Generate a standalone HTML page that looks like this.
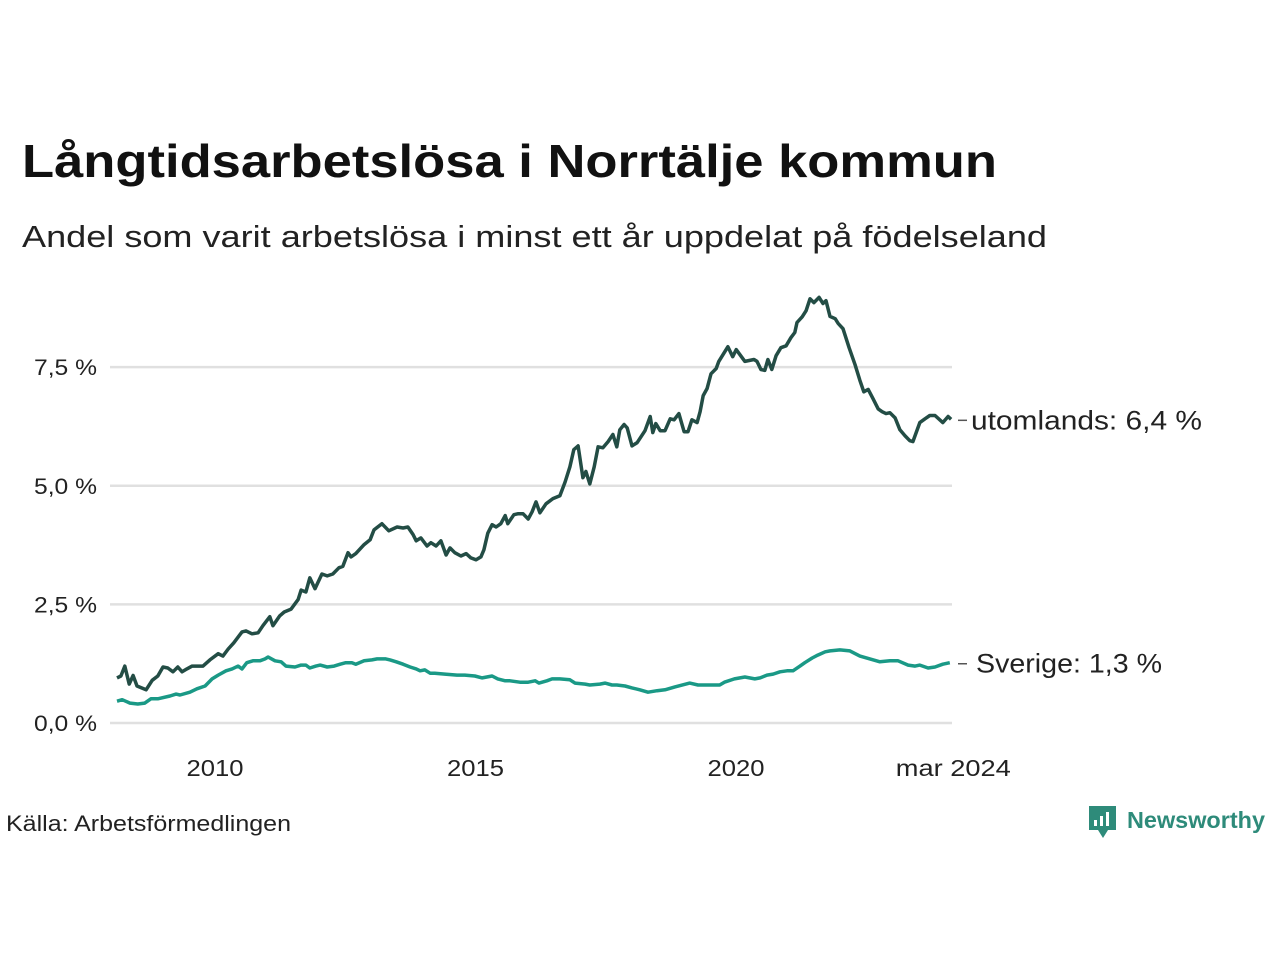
<!DOCTYPE html>
<html><head><meta charset="utf-8"><style>
body{margin:0;background:#fff;}
svg{display:block;font-family:"Liberation Sans","DejaVu Sans",sans-serif;}
</style></head><body>
<svg width="1280" height="960" viewBox="0 0 1280 960">
<text x="22" y="177" font-size="46" font-weight="bold" fill="#111" textLength="975" lengthAdjust="spacingAndGlyphs">Långtidsarbetslösa i Norrtälje kommun</text>
<text x="22" y="247" font-size="31" fill="#222" textLength="1025" lengthAdjust="spacingAndGlyphs">Andel som varit arbetslösa i minst ett år uppdelat på födelseland</text>
<g id="grid"></g>
<g id="plot"></g>
<text x="6" y="831" font-size="22" fill="#222" textLength="285" lengthAdjust="spacingAndGlyphs">Källa: Arbetsförmedlingen</text>
<g>
<path d="M1089 806h27v24h-8l-5 8-5-8h-9z" fill="#2e8b7a"/>
<rect x="1094" y="820" width="3" height="6" fill="#fff"/><rect x="1100" y="816" width="3" height="10" fill="#fff"/><rect x="1106" y="812" width="3" height="14" fill="#fff"/>
<text x="1127" y="828" font-size="23" font-weight="bold" fill="#2e8b7a" textLength="138" lengthAdjust="spacingAndGlyphs">Newsworthy</text>
</g>
</svg>
<script>
const yTicks=[0,2.5,5,7.5];
const yTickLabels=["0,0 %","2,5 %","5,0 %","7,5 %"];
const xTickYears=[2010,2015,2020,2024.17];
const xTickLabels=["2010","2015","2020","mar 2024"];
const startYear=2008.12;
const utMonths=[0,0.9,1.8,2.8,3.7,4.6,6.7,8.1,9.4,10.6,11.7,12.9,14.0,15.0,16.1,17.3,19.8,21.4,23.3,24.4,25.6,26.9,28.8,29.7,31.1,32.5,33.6,35.2,35.9,37.5,38.5,40.1,41.7,42.4,43.5,44.4,45.6,47.2,48.4,49.7,51.1,52.0,53.2,53.9,55.0,56.9,58.3,59.2,61.0,62.6,64.5,65.9,67.0,68.2,68.9,70.0,71.4,72.3,73.5,74.6,75.8,76.7,77.8,79.2,80.4,81.5,82.7,83.8,84.5,85.4,86.4,87.3,88.4,89.4,90.0,91.4,92.4,93.5,94.7,95.6,96.5,97.4,98.8,100.4,102.0,103.2,104.3,105.2,106.2,107.3,108.0,108.9,109.9,110.8,111.9,113.1,114.2,115.1,115.8,116.8,117.5,118.6,119.8,121.6,122.8,123.4,124.1,125.1,126.2,127.4,128.3,129.4,130.6,131.5,132.4,133.6,134.3,135.0,135.9,136.8,138.0,138.6,140.7,141.8,142.6,144.6,146.7,147.4,148.3,149.2,149.9,150.8,151.8,152.9,154.1,155.2,156.1,156.6,157.8,158.7,159.6,160.5,161.7,162.6,163.3,164.2,165.4,166.1,167.2,168.6,170.0,171.1,172.0,173.0,174.1,175.3,176.2,177.1,178.0,179.2,180.3,181.5,182.6,183.3,184.9,186.1,187.2,188.4,190.2,191.4,192.1];
const utValues=[0.95,0.99,1.2,0.82,1.0,0.78,0.70,0.9,0.99,1.18,1.16,1.08,1.18,1.08,1.14,1.2,1.2,1.33,1.46,1.41,1.56,1.69,1.92,1.94,1.88,1.9,2.05,2.24,2.05,2.26,2.34,2.4,2.6,2.8,2.76,3.06,2.83,3.14,3.1,3.14,3.27,3.3,3.59,3.5,3.57,3.76,3.86,4.07,4.2,4.05,4.13,4.11,4.13,3.97,3.84,3.9,3.73,3.8,3.73,3.84,3.54,3.69,3.59,3.52,3.57,3.48,3.44,3.5,3.65,4.0,4.18,4.13,4.2,4.37,4.2,4.39,4.41,4.41,4.3,4.45,4.66,4.43,4.62,4.73,4.79,5.08,5.4,5.76,5.84,5.17,5.3,5.04,5.4,5.82,5.8,5.93,6.08,5.82,6.18,6.29,6.22,5.84,5.91,6.16,6.46,6.12,6.31,6.16,6.16,6.41,6.39,6.52,6.14,6.14,6.39,6.33,6.56,6.9,7.05,7.36,7.47,7.62,7.93,7.72,7.87,7.62,7.66,7.62,7.45,7.43,7.66,7.45,7.74,7.91,7.95,8.12,8.23,8.44,8.56,8.69,8.94,8.86,8.97,8.84,8.9,8.57,8.52,8.42,8.31,7.91,7.55,7.22,6.98,7.03,6.84,6.62,6.56,6.52,6.54,6.43,6.18,6.05,5.95,5.93,6.33,6.41,6.48,6.48,6.33,6.46,6.4];
const svMonths=[0,1.2,3.0,4.8,6.4,7.8,9.4,12.2,13.6,14.5,16.8,18.4,20.3,21.9,23.3,25.1,26.5,27.9,28.8,29.9,31.3,32.9,34.1,34.8,36.4,37.8,38.9,41.0,42.4,43.5,44.4,45.8,46.8,48.4,50.0,51.4,52.7,54.1,55.0,56.9,58.7,59.9,61.9,62.9,64.3,65.9,67.5,68.9,69.8,70.9,72.1,73.2,75.5,78.3,80.1,82.4,84.1,86.4,87.7,89.4,90.5,92.8,94.7,96.3,97.2,99.0,100.2,102.0,104.3,105.5,107.8,108.9,111.2,112.4,114.0,115.1,117.0,118.6,120.4,122.3,124.4,126.2,128.5,131.9,133.8,137.0,138.8,139.9,142.2,144.6,146.9,148.1,149.7,151.1,152.7,154.3,155.7,157.3,158.4,160.1,161.4,163.1,164.2,166.5,168.8,171.1,173.4,175.7,178.0,179.9,182.2,183.8,184.9,186.8,188.4,190.2,191.8];
const svValues=[0.46,0.49,0.42,0.40,0.42,0.51,0.51,0.57,0.61,0.59,0.65,0.72,0.78,0.93,1.01,1.10,1.14,1.2,1.14,1.27,1.31,1.31,1.35,1.39,1.31,1.29,1.2,1.18,1.22,1.22,1.16,1.2,1.22,1.18,1.2,1.24,1.27,1.27,1.24,1.31,1.33,1.35,1.35,1.33,1.29,1.24,1.18,1.14,1.10,1.12,1.05,1.05,1.03,1.01,1.01,0.99,0.95,0.99,0.93,0.89,0.89,0.86,0.86,0.89,0.84,0.89,0.93,0.93,0.91,0.84,0.82,0.8,0.82,0.84,0.8,0.8,0.78,0.74,0.70,0.65,0.68,0.70,0.76,0.84,0.80,0.80,0.80,0.86,0.93,0.97,0.93,0.95,1.01,1.03,1.08,1.10,1.10,1.2,1.27,1.37,1.43,1.50,1.52,1.54,1.52,1.41,1.35,1.29,1.31,1.31,1.22,1.2,1.22,1.16,1.18,1.24,1.27];
const ns="http://www.w3.org/2000/svg";
const xm=m=>117+m*4.342;
const xy=y=>xm((y-startYear)*12);
const ys=v=>723-v*47.45;
const grid=document.getElementById('grid'),plot=document.getElementById('plot');
function mk(tag,attrs,parent){const e=document.createElementNS(ns,tag);for(const k in attrs)e.setAttribute(k,attrs[k]);parent.appendChild(e);return e;}
yTicks.forEach((t,i)=>{
 const l=mk('line',{x1:110,x2:952,y1:ys(t),y2:ys(t),stroke:'#e0e0e0','stroke-width':2.5},grid);
 
 
 const tx=mk('text',{x:97,y:ys(t)+8,'text-anchor':'end','font-size':22,fill:'#222',textLength:63,lengthAdjust:'spacingAndGlyphs'},grid);
 tx.textContent=yTickLabels[i];
 
 
});
xTickYears.forEach((y,i)=>{
 const w=xTickLabels[i].length>4?115:57;
 const tx=mk('text',{x:xy(y),y:776,'text-anchor':'middle','font-size':23,fill:'#222',textLength:w,lengthAdjust:'spacingAndGlyphs'},grid);
 tx.textContent=xTickLabels[i];
 
 
});
function line(ms,vs,color,name){
 const d=ms.map((m,i)=>(i?'L':'M')+xm(m).toFixed(1)+' '+ys(vs[i]).toFixed(1)).join(' ');
 const p=mk('path',{d:d,fill:'none',stroke:color,'stroke-width':3.5,'stroke-linejoin':'round'},plot);
 
 
 return p;
}
line(svMonths,svValues,'#1a9986','line-sverige');
line(utMonths,utValues,'#234d45','line-utomlands');
function lab(v,text,name,xOff,w){
 const y=ys(v);
 mk('line',{x1:958,x2:967,y1:y+1,y2:y+1,stroke:'#555','stroke-width':1.5},plot);
 const t=mk('text',{x:xOff,y:y+10,'font-size':27,fill:'#222',textLength:w,lengthAdjust:'spacingAndGlyphs'},plot);
 t.textContent=text;
 
 
}
lab(utValues[utValues.length-1],'utomlands: 6,4 %','label-utomlands',971,231);
lab(svValues[svValues.length-1],'Sverige: 1,3 %','label-sverige',976,186);
</script>
</body></html>
